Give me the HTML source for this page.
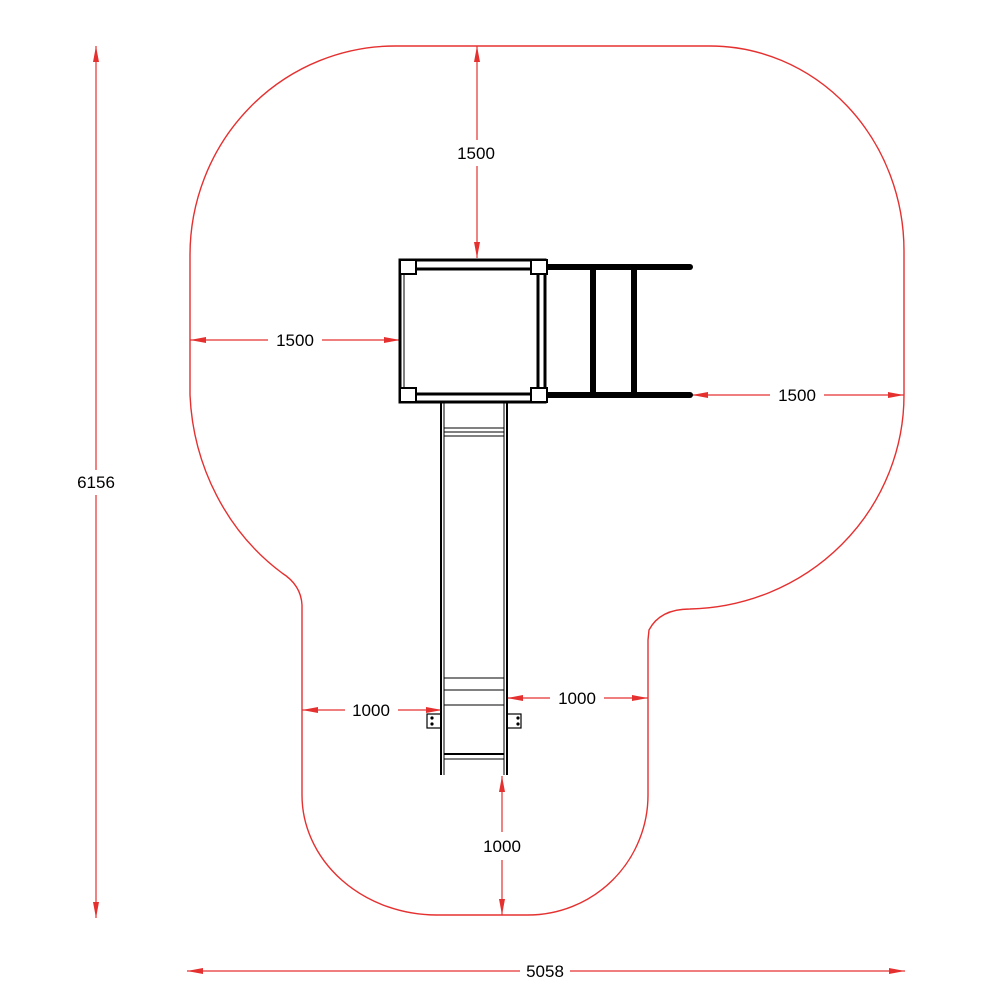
<!DOCTYPE html>
<html><head><meta charset="utf-8"><style>html,body{margin:0;padding:0;background:#fff}svg{display:block}</style></head>
<body>
<svg width="1006" height="1006" viewBox="0 0 1006 1006" xmlns="http://www.w3.org/2000/svg" font-family="Liberation Sans, sans-serif">
<defs>
<marker id="a" viewBox="0 0 16 6" refX="16" refY="3" markerWidth="16" markerHeight="6" markerUnits="userSpaceOnUse" orient="auto-start-reverse"><path d="M0,0 L16,3 L0,6 z" fill="#e53030"/></marker>
</defs>
<path d="M 395 46 L 710 46 A 194 205 0 0 1 904 251 L 904 395 A 219 214 0 0 1 690 609 Q 660 609 649 630 L 648 640 L 648 795 A 120 120 0 0 1 528 915 L 437 915 A 135 120 0 0 1 302 795 L 302 605 Q 301 585 282 573 A 215 230 0 0 1 190 395 L 190 255 A 205 209 0 0 1 395 46 Z" fill="none" stroke="#e53030" stroke-width="1.4"/>
<g stroke="#e53030" stroke-width="1.2" fill="none">
<line x1="96" y1="46" x2="96" y2="470" marker-start="url(#a)"/>
<line x1="96" y1="495" x2="96" y2="918" marker-end="url(#a)"/>
<line x1="187" y1="971" x2="520" y2="971" marker-start="url(#a)"/>
<line x1="570" y1="971" x2="905" y2="971" marker-end="url(#a)"/>
<line x1="477" y1="46" x2="477" y2="140" marker-start="url(#a)"/>
<line x1="477" y1="166" x2="477" y2="258" marker-end="url(#a)"/>
<line x1="190" y1="340" x2="268" y2="340" marker-start="url(#a)"/>
<line x1="322" y1="340" x2="400" y2="340" marker-end="url(#a)"/>
<line x1="692" y1="395" x2="770" y2="395" marker-start="url(#a)"/>
<line x1="824" y1="395" x2="904" y2="395" marker-end="url(#a)"/>
<line x1="302" y1="710" x2="345" y2="710" marker-start="url(#a)"/>
<line x1="398" y1="710" x2="442" y2="710" marker-end="url(#a)"/>
<line x1="507" y1="698" x2="550" y2="698" marker-start="url(#a)"/>
<line x1="604" y1="698" x2="648" y2="698" marker-end="url(#a)"/>
<line x1="502" y1="776" x2="502" y2="832" marker-start="url(#a)"/>
<line x1="502" y1="860" x2="502" y2="915" marker-end="url(#a)"/>
</g>
<g font-size="17" fill="#000" text-anchor="middle">
<text x="96" y="488">6156</text>
<text x="545" y="977">5058</text>
<text x="476" y="159">1500</text>
<text x="295" y="346">1500</text>
<text x="797" y="401">1500</text>
<text x="371" y="716">1000</text>
<text x="577" y="704">1000</text>
<text x="502" y="852">1000</text>
</g>
<g stroke="#000" fill="none">
<line x1="441" y1="403" x2="441" y2="775" stroke-width="2"/>
<line x1="444" y1="403" x2="444" y2="775" stroke-width="1"/>
<line x1="507" y1="403" x2="507" y2="775" stroke-width="2"/>
<line x1="504" y1="403" x2="504" y2="775" stroke-width="1"/>
<line x1="444" y1="428" x2="504" y2="428" stroke-width="1"/>
<line x1="444" y1="432" x2="504" y2="432" stroke-width="1"/>
<line x1="444" y1="436" x2="504" y2="436" stroke-width="1"/>
<line x1="444" y1="678" x2="504" y2="678" stroke-width="1"/>
<line x1="444" y1="690" x2="504" y2="690" stroke-width="1"/>
<line x1="444" y1="705" x2="504" y2="705" stroke-width="1"/>
<line x1="444" y1="754" x2="504" y2="754" stroke-width="2"/>
<line x1="444" y1="759" x2="504" y2="759" stroke-width="1"/>
<rect x="427" y="714" width="14" height="14" stroke-width="1.2"/>
<rect x="507" y="714" width="14" height="14" stroke-width="1.2"/>
</g>
<g fill="#000">
<circle cx="432" cy="718" r="1.6"/><circle cx="432" cy="724" r="1.6"/>
<circle cx="518" cy="718" r="1.6"/><circle cx="518" cy="724" r="1.6"/>
</g>
<g stroke="#000" fill="none">
<rect x="400" y="260" width="145" height="142" stroke-width="3"/>
<line x1="410" y1="269" x2="537" y2="269" stroke-width="3"/>
<line x1="410" y1="394" x2="537" y2="394" stroke-width="3"/>
<line x1="538" y1="270" x2="538" y2="393" stroke-width="3"/>
<line x1="404" y1="270" x2="404" y2="393" stroke-width="1"/>
<line x1="545" y1="267" x2="690" y2="267" stroke-width="6" stroke-linecap="round"/>
<line x1="545" y1="395" x2="690" y2="395" stroke-width="6" stroke-linecap="round"/>
<line x1="593" y1="267" x2="593" y2="395" stroke-width="6"/>
<line x1="634" y1="267" x2="634" y2="395" stroke-width="6"/>
</g>
<g stroke="#000" stroke-width="2" fill="#fff">
<rect x="400" y="260" width="16" height="14"/>
<rect x="531" y="260" width="16" height="14"/>
<rect x="400" y="388" width="16" height="14"/>
<rect x="531" y="388" width="16" height="14"/>
</g>
</svg>
</body></html>
